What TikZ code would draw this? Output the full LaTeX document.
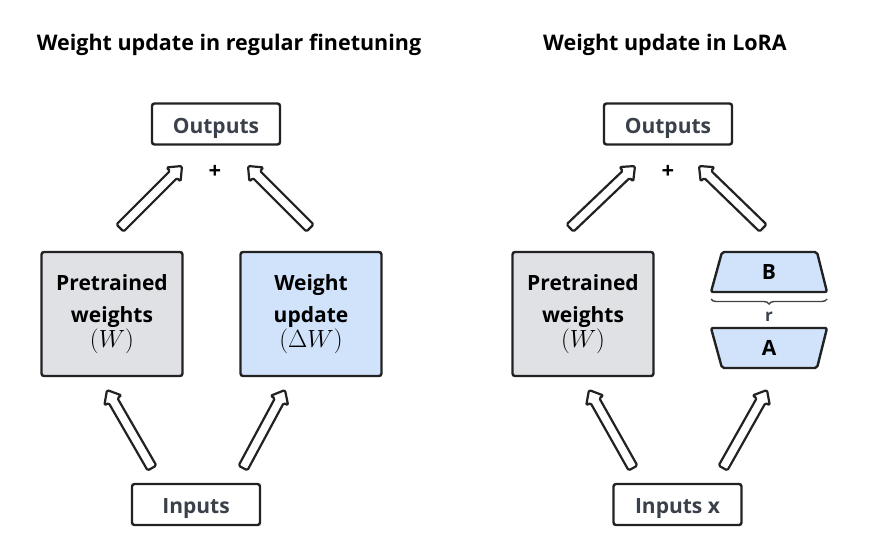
\documentclass[tikz,border=0pt]{standalone}
\usepackage{fontspec}
\setmainfont{Open Sans}
\usetikzlibrary{calc,decorations.pathreplacing}
\definecolor{edge}{HTML}{222222}
\definecolor{graybox}{HTML}{DFE1E5}
\definecolor{bluebox}{HTML}{D0E3FB}
\definecolor{iotext}{HTML}{3A414B}
\tikzset{
  title/.style={font=\bfseries\fontsize{21.5}{24}\selectfont, text=black},
  iobox/.style={draw=edge, line width=2.4pt, rounded corners=2.5pt, fill=white,
    minimum width=128pt, minimum height=41pt, inner sep=0pt,
    text height=18pt, text depth=0pt,
    font=\bfseries\fontsize{21}{24}\selectfont, text=iotext},
  wbox/.style={draw=edge, line width=2.4pt, rounded corners=2.5pt,
    minimum width=141pt, minimum height=124pt, inner sep=0pt, align=center,
    font=\bfseries\fontsize{21}{30}\selectfont, text=black},
  lrtext/.style={inner sep=0pt, font=\bfseries\fontsize{21}{24}\selectfont, text=black},
  lrshape/.style={draw=edge, line width=2.4pt, rounded corners=2pt, fill=bluebox, line join=round},
  hollow/.style={draw=edge, line width=2.2pt, fill=white, line join=round, rounded corners=1.5pt},
  plus/.style={font=\bfseries\fontsize{22}{24}\selectfont, text=black},
}
\newcommand\hollowarrow[2]{%
  \path[hollow] ($(#1)!5pt!90:(#2)$)
    -- ($($(#2)!12pt!(#1)$)!5pt!90:(#2)$)
    -- ($($(#2)!12pt!(#1)$)!10pt!90:(#2)$)
    -- (#2)
    -- ($($(#2)!12pt!(#1)$)!10pt!-90:(#2)$)
    -- ($($(#2)!12pt!(#1)$)!5pt!-90:(#2)$)
    -- ($(#1)!5pt!-90:(#2)$) -- cycle;}
\newcommand\mathline[1]{{\mdseries\fontsize{24}{30}\selectfont$#1$}}
\begin{document}
\begin{tikzpicture}[x=1pt,y=-1pt]
\useasboundingbox[fill=white] (0,0) rectangle (893,549);
% titles
\node[title] (t1) at (229,45) {Weight update in regular finetuning};
\node[title] (t2) at (665,45) {Weight update in LoRA};
% left diagram
\node[iobox] (out1) at (216,124) {Outputs};
\node[plus] (plus1) at (215,172) {+};
\node[wbox, fill=graybox] (pre1) at (112,314) {Pretrained\\[2pt]weights\\[-5pt]\mathline{(W)}};
\node[wbox, fill=bluebox] (upd) at (311,314) {Weight\\[2pt]update\\[-5pt]\mathline{(\Delta W)}};
\node[iobox] (in1) at (196,504.5) {Inputs};
\coordinate (a1s) at (120,228); \coordinate (a1e) at (182,166);
\coordinate (a2s) at (310,228); \coordinate (a2e) at (248,166);
\coordinate (a3s) at (152,468); \coordinate (a3e) at (107,390);
\coordinate (a4s) at (243,468); \coordinate (a4e) at (285,390);
\hollowarrow{a1s}{a1e}
\hollowarrow{a2s}{a2e}
\hollowarrow{a3s}{a3e}
\hollowarrow{a4s}{a4e}
% right diagram
\node[iobox] (out2) at (668,124) {Outputs};
\node[plus] (plus2) at (668,172) {+};
\node[wbox, fill=graybox] (pre2) at (583,314) {Pretrained\\[2pt]weights\\[-5pt]\mathline{(W)}};
\path[lrshape] (711,292) -- (722,252) -- (817,252) -- (827,292) -- cycle;
\node[lrtext] (B) at (769,272) {B};
\path[lrshape] (711,328) -- (827,328) -- (817,368) -- (722,368) -- cycle;
\node[lrtext] (A) at (769,348) {A};
\draw[edge!85, line width=1.4pt, decorate, decoration={brace, amplitude=5pt}]
  (827,299) -- (711,299);
\node[font=\bfseries\fontsize{17}{20}\selectfont, text=iotext] (r) at (769,317) {r};
\node[iobox] (in2) at (677.5,504.5) {Inputs x};
\coordinate (b1s) at (570,228); \coordinate (b1e) at (635,166);
\coordinate (b2s) at (763,228); \coordinate (b2e) at (699,166);
\coordinate (b3s) at (633,468); \coordinate (b3e) at (589,390);
\coordinate (b4s) at (723,468); \coordinate (b4e) at (767,390);
\hollowarrow{b1s}{b1e}
\hollowarrow{b2s}{b2e}
\hollowarrow{b3s}{b3e}
\hollowarrow{b4s}{b4e}
\end{tikzpicture}
\end{document}
